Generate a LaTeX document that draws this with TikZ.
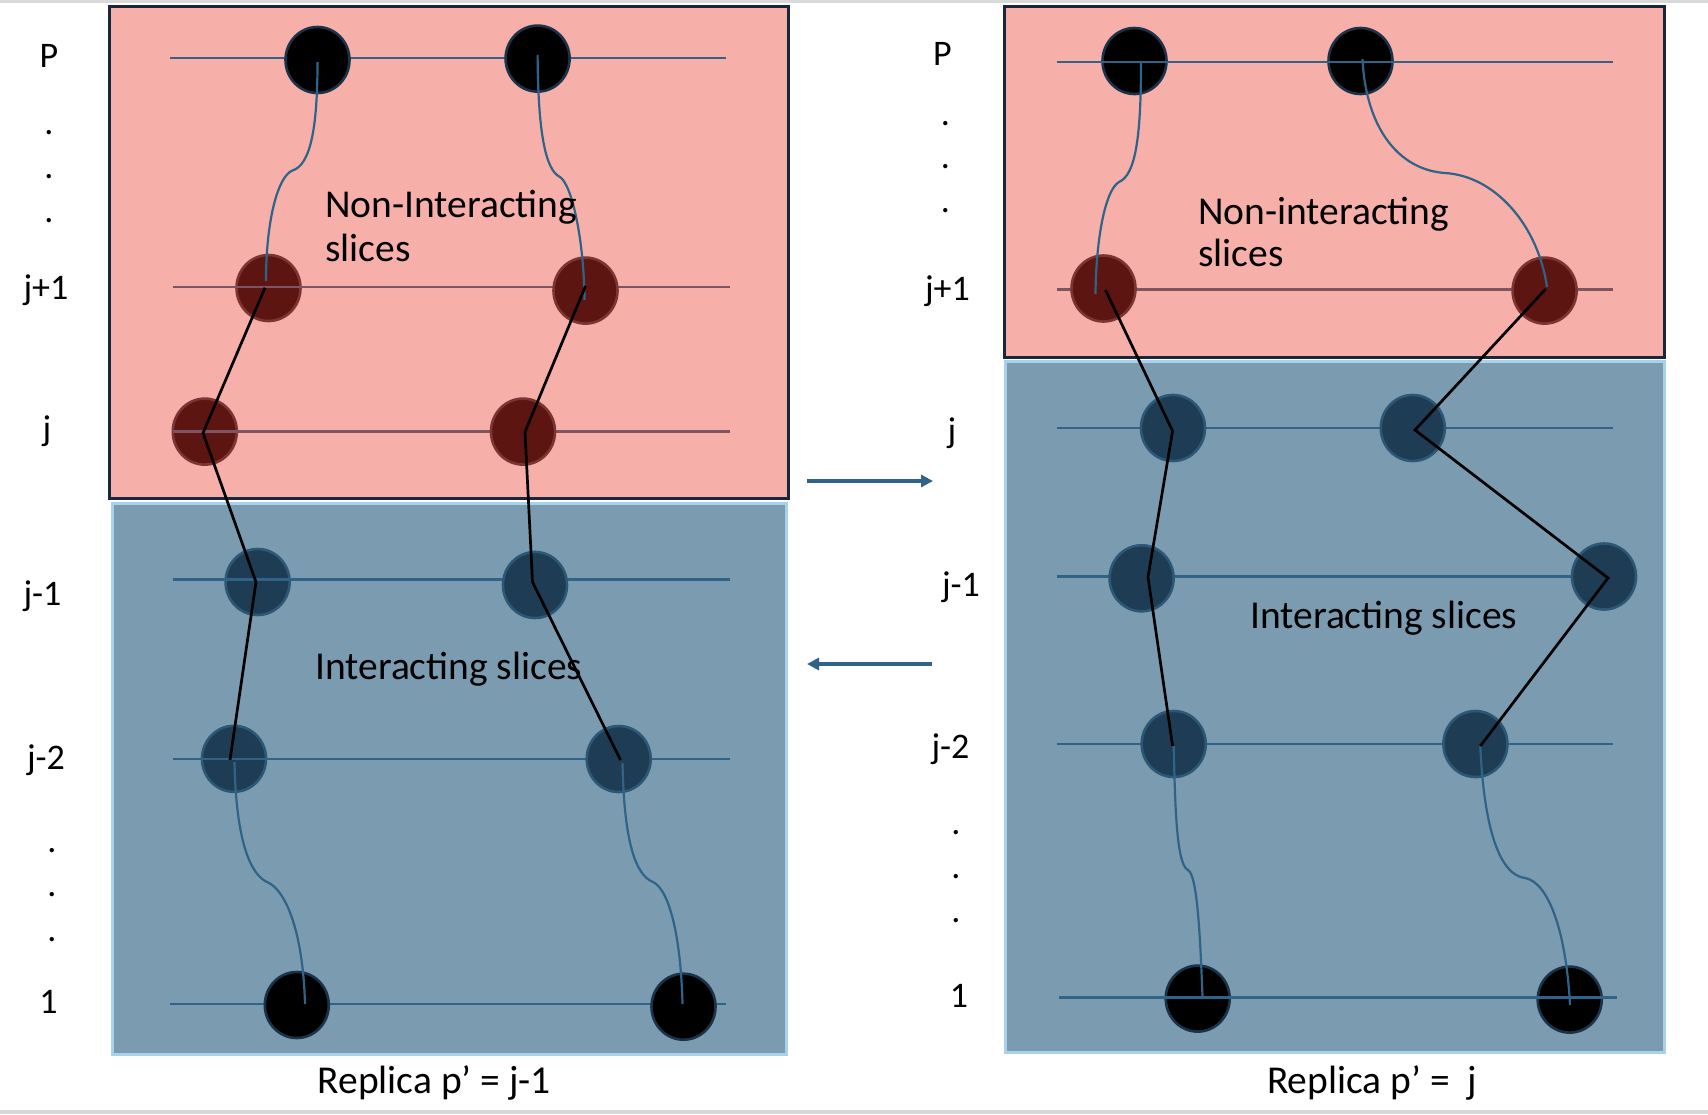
\documentclass[tikz,border=0pt]{standalone}
\usepackage{fontspec}
\setmainfont{Carlito}
\usetikzlibrary{shapes.geometric,arrows.meta}
\definecolor{pinkfill}{HTML}{F6AFA9}
\definecolor{bluefill}{HTML}{7B9BB0}
\definecolor{boxnavy}{HTML}{18283A}
\definecolor{boxlight}{HTML}{A9D1EA}
\definecolor{rowblue}{HTML}{2F6488}
\definecolor{rowmauve}{HTML}{7D5561}
\definecolor{redc}{HTML}{5C1511}
\definecolor{redb}{HTML}{7B3535}
\definecolor{navyc}{HTML}{1E3C53}
\definecolor{navyb}{HTML}{2C5775}
\definecolor{blackb}{HTML}{1B3348}
\definecolor{edgegrey}{HTML}{D9D9D9}
\tikzset{
  pinkbox/.style={draw=boxnavy,line width=3pt,fill=pinkfill},
  bluebox/.style={draw=boxlight,line width=3pt,fill=bluefill},
  rowline/.style={draw=rowblue,line width=2.8pt},
  rowlinep/.style={draw=rowmauve,line width=2.8pt},
  bead/.style={ellipse,minimum width=64pt,minimum height=66pt,inner sep=0pt,line width=2.6pt},
  beadk/.style={bead,fill=black,draw=blackb},
  beadr/.style={bead,fill=redc,draw=redb},
  beadn/.style={bead,fill=navyc,draw=navyb},
  chain/.style={draw=black,line width=2.7pt,line join=miter},
  worm/.style={draw=rowblue,line width=2.2pt},
  flow/.style={draw=rowblue,line width=3.4pt,-{Triangle[length=12pt,width=12pt]}},
  lbl/.style={font=\fontsize{36}{42}\selectfont,inner sep=0pt,anchor=base},
  body/.style={font=\fontsize{39.5}{44}\selectfont,inner sep=0pt,anchor=base west},
  dotl/.style={font=\fontsize{36}{42}\selectfont,inner sep=0pt}
}
\begin{document}
\begin{tikzpicture}[x=1pt,y=-1pt]
\useasboundingbox (0,0) rectangle (1708,1114);
\fill[edgegrey] (0,0) rectangle (1708,3);
\fill[edgegrey] (0,1110) rectangle (1708,1114);
% ---------- boxes ----------
\path[bluebox] (112,503) rectangle (786,1054);
\path[pinkbox] (109,6) rectangle (788,498);
\path[bluebox] (1005.4,361.6) rectangle (1664,1052.6);
\path[pinkbox] (1004.3,6) rectangle (1664.5,357.7);
% ---------- row lines (left) ----------
\coordinate (LPa) at (170,58);   \coordinate (LPb) at (726,58);
\coordinate (LJ1a) at (173,287); \coordinate (LJ1b) at (730,287);
\coordinate (LJa) at (173,431.6);\coordinate (LJb) at (730,431.6);
\coordinate (LM1a) at (173,579.4);\coordinate (LM1b) at (730,579.4);
\coordinate (LM2a) at (173,759); \coordinate (LM2b) at (730,759);
\coordinate (L1a) at (170,1004); \coordinate (L1b) at (726,1004);
\draw[rowline] (LPa) -- (LPb);
\draw[rowlinep] (LJ1a) -- (LJ1b);
\draw[rowlinep] (LJa) -- (LJb);
\draw[rowline] (LM1a) -- (LM1b);
\draw[rowline] (LM2a) -- (LM2b);
\draw[rowline] (L1a) -- (L1b);
% ---------- row lines (right) ----------
\coordinate (RPa) at (1056.6,62);   \coordinate (RPb) at (1613,62);
\coordinate (RJ1a) at (1056.6,289.5);\coordinate (RJ1b) at (1613,289.5);
\coordinate (RJa) at (1056.6,428);  \coordinate (RJb) at (1613,428);
\coordinate (RM1a) at (1056.6,576.5);\coordinate (RM1b) at (1606,576.5);
\coordinate (RM2a) at (1056.6,744); \coordinate (RM2b) at (1613,744);
\coordinate (R1a) at (1059,997.5);  \coordinate (R1b) at (1616.5,997.5);
\draw[rowlinep] (RJ1a) -- (RJ1b);
\draw[rowline] (RJa) -- (RJb);
\draw[rowline] (RM1a) -- (RM1b);
\draw[rowline] (RM2a) -- (RM2b);
% ---------- beads (left) ----------
\node[beadk] (lp1) at (317.5,60) {};
\node[beadk] (lp2) at (537.6,58.6) {};
\node[beadr] (lj11) at (268.5,288) {};
\node[beadr] (lj12) at (585.5,290.6) {};
\node[beadr] (lj1) at (204.8,431.6) {};
\node[beadr] (lj2) at (523,431.6) {};
\node[beadn] (lm11) at (257.6,582) {};
\node[beadn] (lm12) at (535,585) {};
\node[beadn] (lm21) at (234,758.8) {};
\node[beadn] (lm22) at (618.7,759) {};
\node[beadk] (l11) at (296.8,1005) {};
\node[beadk] (l12) at (683.5,1006.7) {};
% line over some beads
\draw[rowlinep] (lj11.west |- LJ1a) -- (lj11.east |- LJ1a);
\draw[rowlinep] (LJa) -- (lj1.east |- LJa);
\draw[rowline] (lm11.west |- LM1a) -- (lm11.east |- LM1a);
\draw[rowline] (lm21.west |- LM2a) -- (lm21.east |- LM2a);
% ---------- beads (right) ----------
\node[beadk] (rp1) at (1134.5,61) {};
\node[beadk] (rp2) at (1360.5,61) {};
\node[beadr] (rj11) at (1103.5,288.5) {};
\node[beadr] (rj12) at (1544.6,290.6) {};
\node[beadn] (rj1) at (1173,428) {};
\node[beadn] (rj2) at (1412.8,428) {};
\node[beadn] (rm11) at (1141.6,578.3) {};
\node[beadn] (rm12) at (1604,576.5) {};
\node[beadn] (rm21) at (1173.7,744) {};
\node[beadn] (rm22) at (1475.4,744) {};
\node[beadk] (r11) at (1197.7,998.6) {};
\node[beadk] (r12) at (1569.7,999.6) {};
\draw[rowline] (RPa) -- (RPb);
\draw[rowline] (R1a) -- (R1b);
% ---------- worm-like paths (blue) ----------
\coordinate (wa0) at (317.5,62);  \coordinate (wak) at (292.5,170.5); \coordinate (wa1) at (266,281);
\draw[worm] (wa0) .. controls (317.5,130) and (310,165) .. (wak) .. controls (278,176) and (266,220) .. (wa1);
\coordinate (wb0) at (537.6,55);  \coordinate (wbk) at (560,177); \coordinate (wb1) at (584.5,300);
\draw[worm] (wb0) .. controls (538,130) and (545,170) .. (wbk) .. controls (572,185) and (584,240) .. (wb1);
\coordinate (wc0) at (234.5,762); \coordinate (wck) at (268,882.5); \coordinate (wc1) at (305,1004);
\draw[worm] (wc0) .. controls (236,840) and (250,875) .. (wck) .. controls (285,890) and (303,930) .. (wc1);
\coordinate (wd0) at (622.5,763); \coordinate (wdk) at (653,882); \coordinate (wd1) at (682.5,1004);
\draw[worm] (wd0) .. controls (624,840) and (635,875) .. (wdk) .. controls (670,890) and (681,940) .. (wd1);
\coordinate (we0) at (1141,63); \coordinate (wek) at (1119,182); \coordinate (we1) at (1095.5,294);
\draw[worm] (we0) .. controls (1141,140) and (1135,175) .. (wek) .. controls (1105,190) and (1096,240) .. (we1);
\coordinate (wf0) at (1362.5,59); \coordinate (wfk) at (1445,173); \coordinate (wf1) at (1547,287);
\draw[worm] (wf0) .. controls (1366,130) and (1400,170) .. (wfk) .. controls (1495,176) and (1538,225) .. (wf1);
\coordinate (wg0) at (1173.7,746); \coordinate (wgk) at (1188,870); \coordinate (wg1) at (1202.6,999);
\draw[worm] (wg0) .. controls (1175,800) and (1176,865) .. (wgk) .. controls (1197,875) and (1200,930) .. (wg1);
\coordinate (wh0) at (1480.3,746); \coordinate (whk) at (1525,878); \coordinate (wh1) at (1570,1005);
\draw[worm] (wh0) .. controls (1484,830) and (1500,875) .. (whk) .. controls (1548,882) and (1566,930) .. (wh1);
% ---------- black chains ----------
\coordinate (ca1) at (265,287.7); \coordinate (ca2) at (203,433); \coordinate (ca3) at (256,582); \coordinate (ca4) at (230,760);
\draw[chain] (ca1) -- (ca2) -- (ca3) -- (ca4);
\coordinate (cb1) at (585.5,286); \coordinate (cb2) at (525,432); \coordinate (cb3) at (532.5,582); \coordinate (cb4) at (620.5,760);
\draw[chain] (cb1) -- (cb2) -- (cb3) -- (cb4);
\coordinate (cc1) at (1105.5,290); \coordinate (cc2) at (1172.6,431); \coordinate (cc3) at (1148,577); \coordinate (cc4) at (1172.6,746);
\draw[chain] (cc1) -- (cc2) -- (cc3) -- (cc4);
\coordinate (cd1) at (1545.7,289); \coordinate (cd2) at (1415,430); \coordinate (cd3) at (1608,578); \coordinate (cd4) at (1480.3,746);
\draw[chain] (cd1) -- (cd2) -- (cd3) -- (cd4);
% ---------- arrows ----------
\coordinate (ar0) at (807,481); \coordinate (ar1) at (933,481);
\draw[flow] (ar0) -- (ar1);
\coordinate (al0) at (932,664); \coordinate (al1) at (807,664);
\draw[flow] (al0) -- (al1);
% ---------- texts ----------
\node[body] (tl1) at (325,217) {Non-Interacting};
\node[body] (tl2) at (325,261) {slices};
\node[body] (tl3) at (315,679.6) {Interacting slices};
\node[body] (tl4) at (317.5,1093.4) {Replica p’ = j-1};
\node[body] (tr1) at (1198,224) {Non-interacting};
\node[body] (tr2) at (1198,266.4) {slices};
\node[body] (tr3) at (1250,628) {Interacting slices};
\node[body] (tr4) at (1266.8,1093) {Replica p’ =\ \ j};
% left labels
\node[lbl] (a1) at (49,67.5) {P};
\node[lbl] (a2) at (46,299.5) {j+1};
\node[lbl] (a3) at (47,440) {j};
\node[lbl] (a4) at (42.5,605) {j-1};
\node[lbl] (a5) at (46,769.5) {j-2};
\node[lbl] (a6) at (48.5,1013.5) {1};
\node[dotl] (d1) at (49,133) {.};
\node[dotl] (d2) at (49,177) {.};
\node[dotl] (d3) at (49,221) {.};
\node[dotl] (d4) at (52,851) {.};
\node[dotl] (d5) at (52,895) {.};
\node[dotl] (d6) at (52,940) {.};
% right labels
\node[lbl] (b1) at (942.5,65) {P};
\node[lbl] (b2) at (947.5,300) {j+1};
\node[lbl] (b3) at (952,442) {j};
\node[lbl] (b4) at (961,596) {j-1};
\node[lbl] (b5) at (950.5,758.5) {j-2};
\node[lbl] (b6) at (959,1007.5) {1};
\node[dotl] (e1) at (945.5,123.6) {.};
\node[dotl] (e2) at (945.5,167) {.};
\node[dotl] (e3) at (945.5,211) {.};
\node[dotl] (e4) at (956,833) {.};
\node[dotl] (e5) at (956,877) {.};
\node[dotl] (e6) at (956,921) {.};
\end{tikzpicture}
\end{document}
